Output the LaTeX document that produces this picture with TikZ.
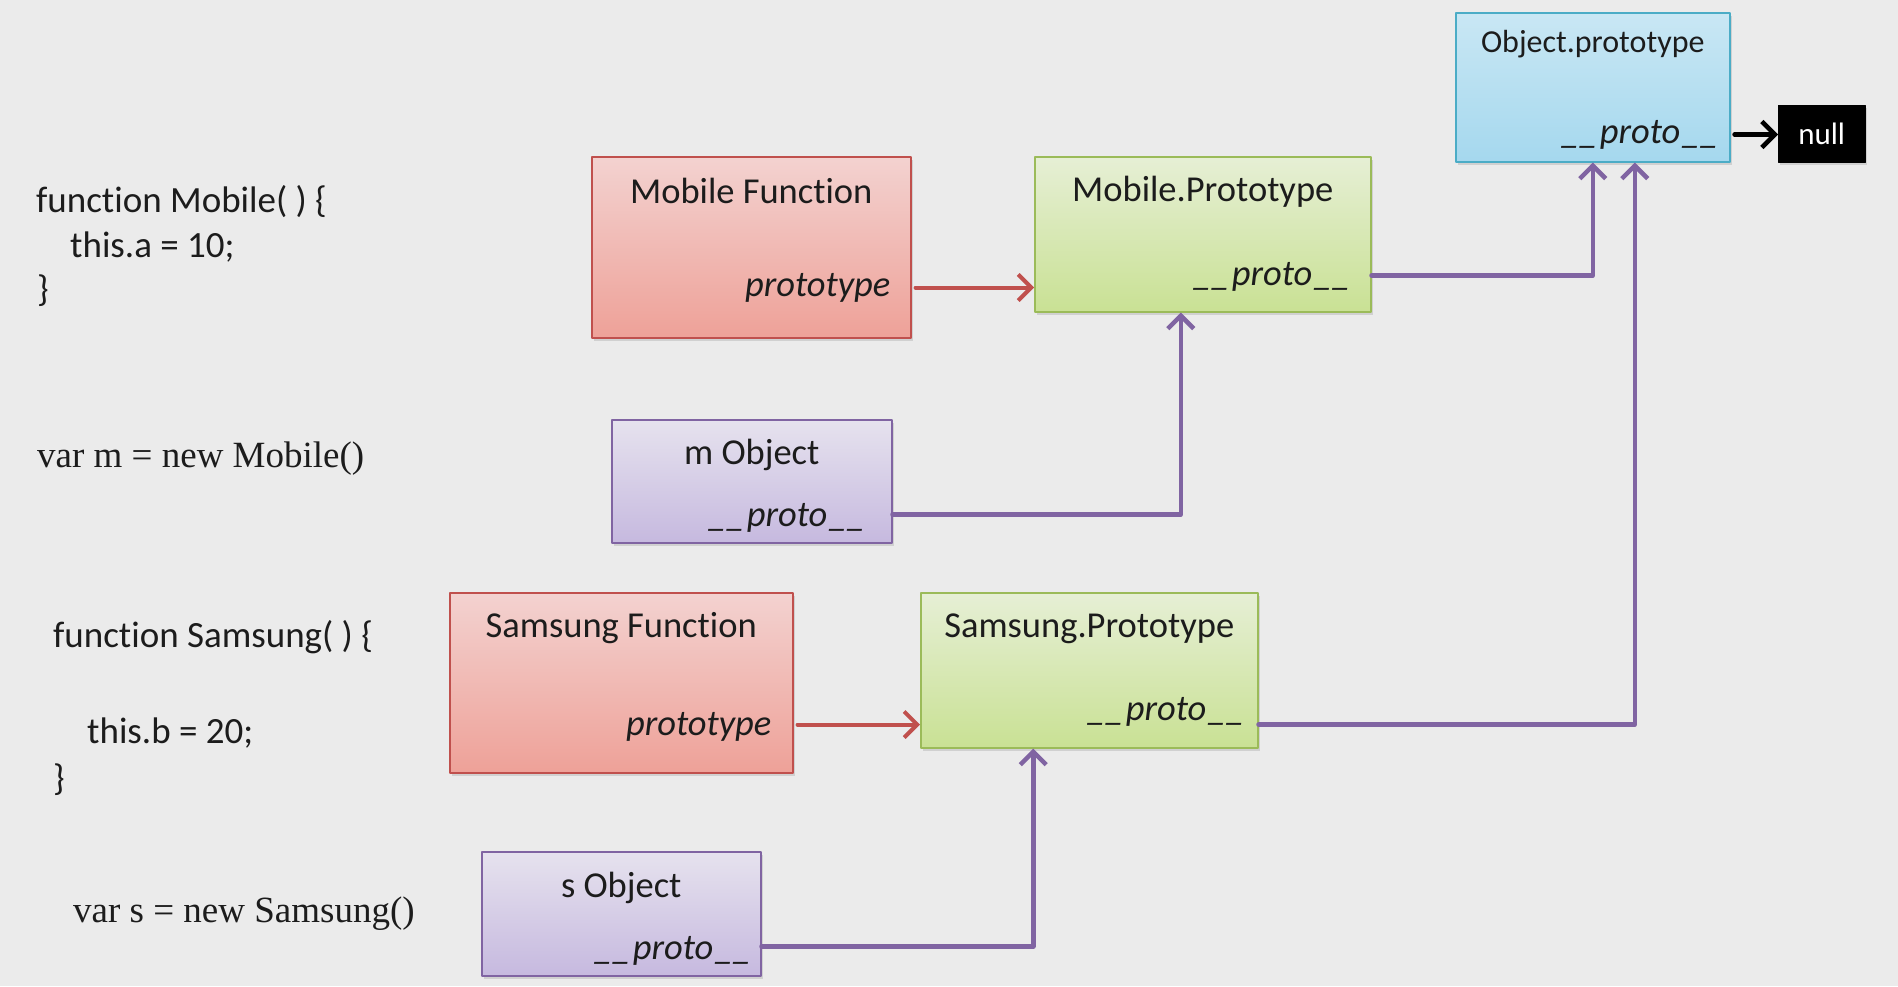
\documentclass[tikz,border=0pt]{standalone}
\usepackage{fontspec}
\setmainfont{Carlito}[Ligatures=CommonOff]
\newfontfamily\codeserif{Liberation Serif}
\usetikzlibrary{arrows.meta,shadows,positioning}
\definecolor{pagegray}{HTML}{EBEBEB}
\definecolor{inkgray}{HTML}{1C1C1C}
\definecolor{fnedge}{HTML}{C0504D}
\definecolor{fntop}{HTML}{F3D2D0}
\definecolor{fnbot}{HTML}{EEA198}
\definecolor{ptedge}{HTML}{9BBB59}
\definecolor{pttop}{HTML}{E6EFD5}
\definecolor{ptbot}{HTML}{C9E194}
\definecolor{obedge}{HTML}{8064A2}
\definecolor{obtop}{HTML}{E6E2EE}
\definecolor{obbot}{HTML}{C6B9DF}
\definecolor{rtedge}{HTML}{4BACC6}
\definecolor{rttop}{HTML}{C9E7F4}
\definecolor{rtbot}{HTML}{A5D8EE}

% joined double underscore
\newcommand{\dunder}{\scalebox{1.2}[1]{\_\kern-3pt\_}}

\tikzset{
  objbox/.style={draw, rectangle, anchor=north west, inner sep=0pt, line width=1.5pt,
    drop shadow={shadow xshift=2pt, shadow yshift=-3pt, opacity=0.25}},
  fnbox/.style={objbox, draw=fnedge, top color=fntop, bottom color=fnbot},
  ptbox/.style={objbox, draw=ptedge, top color=pttop, bottom color=ptbot},
  obbox/.style={objbox, draw=obedge, top color=obtop, bottom color=obbot},
  rtbox/.style={objbox, draw=rtedge, top color=rttop, bottom color=rtbot},
  titlelbl/.style={anchor=base, inner sep=0pt, text=inkgray, font=\fontsize{36.5}{44}\selectfont},
  slotlbl/.style={anchor=base east, inner sep=0pt, text=inkgray, font=\fontsize{36.5}{44}\selectfont\itshape},
  codelbl/.style={anchor=base west, inner sep=0pt, text=inkgray, font=\fontsize{37}{44}\selectfont},
  newlbl/.style={anchor=base west, inner sep=0pt, text=inkgray, font=\codeserif\fontsize{37}{44}\selectfont},
  tip/.tip={Straight Barb[length=13pt, width=26pt]},
  refarrow/.style={-tip, draw=fnedge, line width=4pt},
  protoline/.style={-tip, draw=obedge, line width=4.5pt},
}

\begin{document}
\begin{tikzpicture}[line cap=round,line join=round,x=1pt,y=-1pt]

    % page
    \fill[pagegray] (0,0) rectangle (1898,986);
    \useasboundingbox (0,0) rectangle (1898,986);

    % source code
    \node[codelbl] (mline1) at (36,212) {function Mobile( ) \{};
    \node[codelbl] (mline2) at (70,257) {this.a = 10;};
    \node[codelbl] (mline3) at (37,301) {\}};
    \node[newlbl] (mnew) at (37,467) {var m = new Mobile()};

    \node[codelbl] (sline1) at (53,647) {function Samsung( ) \{};
    \node[codelbl] (sline2) at (87,743) {this.b = 20;};
    \node[codelbl] (sline3) at (53,790) {\}};
    \node[newlbl] (snew) at (73,922) {var s = new Samsung()};

    % boxes
    \node[fnbox, minimum width=319pt, minimum height=181pt] (mf) at (591,156) {};
    \node[ptbox, minimum width=336pt, minimum height=155pt] (mp) at (1034,156) {};
    \node[obbox, minimum width=280pt, minimum height=123pt] (mo) at (611,419) {};
    \node[fnbox, minimum width=343pt, minimum height=180pt] (sf) at (449,592) {};
    \node[ptbox, minimum width=337pt, minimum height=155pt] (sp) at (920,592) {};
    \node[obbox, minimum width=279pt, minimum height=124pt] (so) at (481,851) {};
    \node[rtbox, minimum width=274pt, minimum height=149pt] (op) at (1455,12) {};
    \node[draw=black, fill=black, anchor=north west, minimum width=87pt, minimum height=57pt,
      inner sep=0pt, text=white, font=\fontsize{31}{37}\selectfont,
      drop shadow={shadow xshift=2pt, shadow yshift=-3pt, opacity=0.25}] (nl) at (1778,105) {null};

    % box texts
    \node[titlelbl] (mftitle) at ([yshift=-47pt]mf.north) {Mobile Function};
    \node[slotlbl] (mfslot) at ([xshift=-21pt,yshift=42pt]mf.south east) {prototype};
    \node[titlelbl] (mptitle) at ([yshift=-45pt]mp.north) {Mobile.Prototype};
    \node[slotlbl] (mpslot) at ([xshift=-19pt,yshift=27pt]mp.south east) {\dunder proto\dunder};
    \node[titlelbl] (motitle) at ([yshift=-45pt]mo.north) {m Object};
    \node[slotlbl] (moslot) at ([xshift=-25pt,yshift=17pt]mo.south east) {\dunder proto\dunder};

    \node[titlelbl] (sftitle) at ([yshift=-45pt]sf.north) {Samsung Function};
    \node[slotlbl] (sfslot) at ([xshift=-22pt,yshift=38pt]sf.south east) {prototype};
    \node[titlelbl] (sptitle) at ([yshift=-45pt]sp.north) {Samsung.Prototype};
    \node[slotlbl] (spslot) at ([xshift=-12pt,yshift=28pt]sp.south east) {\dunder proto\dunder};
    \node[titlelbl] (sotitle) at ([yshift=-46pt]so.north) {s Object};
    \node[slotlbl] (soslot) at ([xshift=-8pt,yshift=17pt]so.south east) {\dunder proto\dunder};

    \node[titlelbl, font=\fontsize{32}{38}\selectfont] (optitle) at ([yshift=-40pt]op.north) {Object.prototype};
    \node[slotlbl] (opslot) at ([xshift=-10pt,yshift=19pt]op.south east) {\dunder proto\dunder};

    % link heights, taken from the slot texts
    \coordinate (mflink) at ([yshift=9pt]mfslot.base east);
    \coordinate (mplink) at ([yshift=10pt]mpslot.base east);
    \coordinate (molink) at ([yshift=12pt]moslot.base east);
    \coordinate (sflink) at ([yshift=11pt]sfslot.base east);
    \coordinate (solink) at ([yshift=13pt]soslot.base east);
    \coordinate (oplink) at ([yshift=9pt]opslot.base east);

    % prototype links
    \draw[refarrow, shorten <=4pt] (mf.east |- mflink) -- (mp.west |- mflink);
    \draw[refarrow, shorten <=4pt] (sf.east |- sflink) -- (sp.west |- sflink);

    % __proto__ chain
    \draw[protoline] (mo.east |- molink) -| ([xshift=-22pt]mp.south);
    \draw[protoline] (so.east |- solink) -| ([xshift=-56pt]sp.south);
    \draw[protoline] (mp.east |- mplink) -| (op.south);
    \draw[protoline] (sp.east |- sflink) -| ([xshift=42pt]op.south);
    \draw[-tip, line width=4.5pt, shorten <=4pt] (op.east |- oplink) -- (nl.west |- oplink);

\end{tikzpicture}
\end{document}
